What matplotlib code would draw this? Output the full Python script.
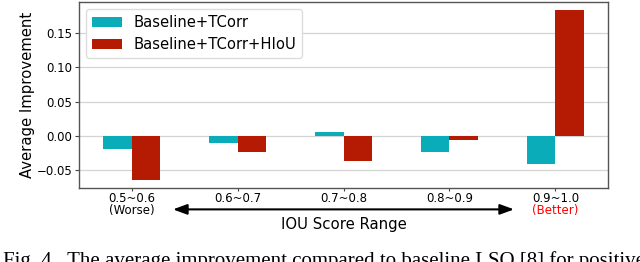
import matplotlib
matplotlib.use("Agg")
import matplotlib.pyplot as plt
import numpy as np

ranges = ["0.5~0.6", "0.6~0.7", "0.7~0.8", "0.8~0.9", "0.9~1.0"]
tcorr = [-0.019, -0.010, 0.005, -0.023, -0.041]
tcorr_hiou = [-0.064, -0.023, -0.037, -0.006, 0.183]
labels = ["Baseline+TCorr", "Baseline+TCorr+HIoU"]
caption = "Fig. 4.  The average improvement compared to baseline LSO [8] for positive samples"

cyan = "#0AACBA"
red = "#B41B02"
w = 0.27

fig = plt.figure(figsize=(6.4, 2.62), dpi=100)
ax = fig.add_axes([79/640, 1-188.3/262, (608-79)/640, (188.3-1.7)/262])

x = np.arange(len(ranges))
ax.bar(x - w/2, tcorr, w, color=cyan, label=labels[0], zorder=3)
ax.bar(x + w/2, tcorr_hiou, w, color=red, label=labels[1], zorder=3)

ax.set_xticks(x)
ax.set_xticklabels(ranges, fontsize=8.5)
ax.set_yticks([-0.05, 0.0, 0.05, 0.10, 0.15])
ax.tick_params(axis='y', labelsize=8.5, length=3, color='#444444', pad=2)
ax.tick_params(axis='x', length=2, color='#444444', pad=0.5)
ax.yaxis.grid(True, color='#d4d4d4', lw=0.9, zorder=0)
for s in ax.spines.values():
    s.set_color('#555555')
    s.set_linewidth(1.0)

ax.set_ylabel("Average Improvement", fontsize=10.7, labelpad=1)
ax.set_xlabel("IOU Score Range", fontsize=10.7, labelpad=8.5)

# (Worse) / (Better) under the end tick labels
tr = ax.get_xaxis_transform()
ax.text(0, -0.12, "(Worse)", transform=tr, ha='center', va='center', fontsize=8.5)
ax.text(4, -0.12, "(Better)", transform=tr, ha='center', va='center', fontsize=8.5, color='red')
ax.annotate("", xy=(0.39, -0.113), xytext=(3.61, -0.113), xycoords=tr, textcoords=tr,
            arrowprops=dict(arrowstyle='<|-|>,head_length=0.6,head_width=0.22', color='black',
                            lw=1.5, mutation_scale=14, shrinkA=0, shrinkB=0),
            annotation_clip=False)

leg = ax.legend(loc='upper left', fontsize=10.6, borderaxespad=0.5, framealpha=1,
                edgecolor='#dddddd')

fig.text(3/640, 1-251/262, caption, fontsize=15, family='Liberation Serif',
         ha='left', va='top')

fig.savefig("out.png", dpi=100)
